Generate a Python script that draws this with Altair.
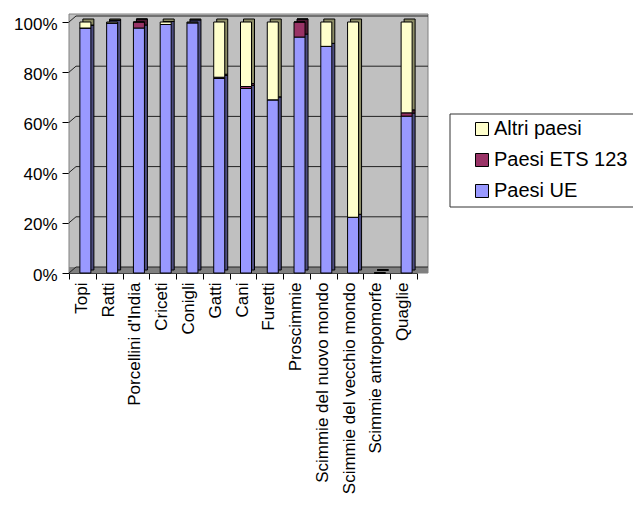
import altair as alt
import pandas as pd

categories = ["Topi", "Ratti", "Porcellini d'India", "Criceti", "Conigli", "Gatti", "Cani",
              "Furetti", "Proscimmie", "Scimmie del nuovo mondo", "Scimmie del vecchio mondo",
              "Scimmie antropomorfe", "Quaglie"]
paesi_ue = [97.6, 99.6, 97.6, 99.0, 99.7, 77.5, 73.5, 69.0, 94.0, 90.3, 22.2, 0.0, 62.5]
paesi_ets = [0.0, 0.0, 2.4, 0.0, 0.0, 0.5, 0.8, 0.0, 6.0, 0.0, 0.0, 0.0, 1.3]
altri_paesi = [2.4, 0.4, 0.0, 1.0, 0.3, 22.0, 25.7, 31.0, 0.0, 9.7, 77.8, 0.0, 36.2]

series_names = ["Paesi UE", "Paesi ETS 123", "Altri paesi"]
series_values = [paesi_ue, paesi_ets, altri_paesi]
front_colors = {"Paesi UE": "#9999FF", "Paesi ETS 123": "#993366", "Altri paesi": "#FFFFCC"}
side_colors = {"Paesi UE": "#4D4D80", "Paesi ETS 123": "#4D1A33", "Altri paesi": "#8C8C66"}
tick_values = [0, 0.2, 0.4, 0.6, 0.8, 1.0]

rows = []
for k, (name, vals) in enumerate(zip(series_names, series_values)):
    for c, v in zip(categories, vals):
        rows.append({"cat": c, "serie": name, "frac": v / 100.0, "ord": k,
                     "shade": side_colors[name]})
df = pd.DataFrame(rows)
ticks_df = pd.DataFrame({"t": tick_values})
one = pd.DataFrame({"a": [0]})

W, H = 348, 251

yscale = alt.Scale(domain=[0, 1], nice=False, zero=True)
yaxis = alt.Axis(format="%", values=tick_values, grid=False, labelFontSize=17,
                 labelFont="Liberation Sans", labelColor="black",
                 tickColor="black", domainColor="black", tickSize=7,
                 labelPadding=5, labelOffset=2)

wall = alt.Chart(one).mark_rect(fill="#C0C0C0", stroke="#808080", strokeWidth=1).encode(
    x=alt.value(0), x2=alt.value(359), y=alt.value(-8), y2=alt.value(H))
floor = alt.Chart(one).mark_rect(fill="#808080").encode(
    x=alt.value(0), x2=alt.value(359), y=alt.value(H - 6), y2=alt.value(H))

grid = alt.Chart(ticks_df).mark_rule(color="#222222", strokeWidth=1, yOffset=-6).encode(
    x=alt.value(7), x2=alt.value(359), y=alt.Y("t:Q", scale=yscale, axis=yaxis, title=None))
diag = alt.Chart(ticks_df).mark_rule(color="#222222", strokeWidth=1, y2Offset=-6).encode(
    x=alt.value(0), x2=alt.value(7), y=alt.Y("t:Q", scale=yscale, axis=yaxis, title=None),
    y2="t:Q")

xenc = alt.X("cat:N", sort=categories, title=None,
             scale=alt.Scale(paddingInner=0.0, paddingOuter=0.0),
             axis=alt.Axis(labelAngle=-90, labelFontSize=17, labelFont="Liberation Sans",
                           labelColor="black", tickColor="black", domainColor="black",
                           tickSize=6, labelPadding=3, tickBand="extent", labelLimit=300,
                           labelOffset=-1))
yenc = alt.Y("frac:Q", stack="zero", scale=yscale, title=None, axis=yaxis)

shadow = alt.Chart(df).mark_bar(size=11, xOffset=6, yOffset=-3, y2Offset=-3,
                                stroke="black", strokeWidth=1).encode(
    x=xenc, y=yenc,
    color=alt.Color("shade:N", scale=None),
    order=alt.Order("ord:Q", sort="ascending"))

front = alt.Chart(df).mark_bar(size=11, xOffset=3, stroke="black", strokeWidth=1).encode(
    x=xenc, y=yenc,
    color=alt.Color("serie:N",
                    scale=alt.Scale(domain=["Altri paesi", "Paesi ETS 123", "Paesi UE"],
                                    range=[front_colors["Altri paesi"],
                                           front_colors["Paesi ETS 123"],
                                           front_colors["Paesi UE"]]),
                    legend=alt.Legend(title=None, orient="none", legendX=403, legendY=97,
                                      symbolType="square", symbolSize=169,
                                      symbolStrokeColor="black", symbolStrokeWidth=1,
                                      labelFontSize=20, labelFont="Liberation Sans",
                                      labelColor="black", rowPadding=11, labelOffset=2,
                                      padding=0)),
    order=alt.Order("ord:Q", sort="ascending"))

legend_box = alt.Chart(one).mark_rect(fill="white", stroke="#333333", strokeWidth=1).encode(
    x=alt.value(381), x2=alt.value(600), y=alt.value(92), y2=alt.value(185))

chart = alt.layer(wall, floor, grid, diag, legend_box, shadow, front).properties(
    width=W, height=H,
    autosize=alt.AutoSizeParams(type="none"),
    padding={"left": 61, "top": 14, "right": 216, "bottom": 225},
    background="white",
).configure_view(stroke=None)

chart.save("out.html", embed_options={"renderer": "svg", "actions": False})
